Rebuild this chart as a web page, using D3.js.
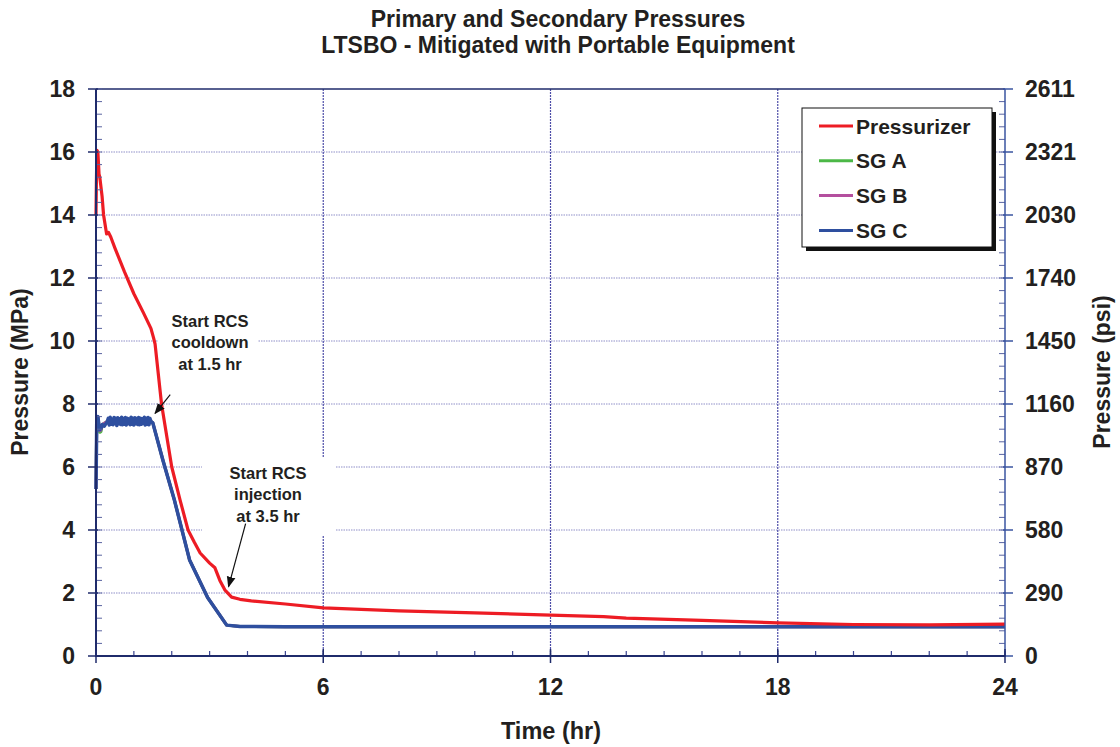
<!DOCTYPE html>
<html><head><meta charset="utf-8">
<script src="https://cdn.jsdelivr.net/npm/d3@7"></script>
<style>body{margin:0;background:#fff}svg{display:block}text{font-family:"Liberation Sans",Arial,sans-serif;font-weight:bold;fill:#231f20}</style>
</head><body><svg id="c" width="1120" height="747"></svg>
<script>
// ---- data ----
const titleLines = ["Primary and Secondary Pressures", "LTSBO - Mitigated with Portable Equipment"];
const xTicks = [0, 6, 12, 18, 24];
const yTicks = [0, 2, 4, 6, 8, 10, 12, 14, 16, 18];
const psiLabels = ["0", "290", "580", "870", "1160", "1450", "1740", "2030", "2321", "2611"];
const seriesNames = ["Pressurizer", "SG A", "SG B", "SG C"];
const seriesColors = ["#ed1c24", "#4cb847", "#b44f9e", "#2e4f9f"];

const pressurizer = [[0,14.0],[0.01,15.0],[0.025,16.05],[0.05,16.0],[0.08,15.3],[0.1,15.2],[0.13,14.9],[0.16,14.6],[0.2,14.0],[0.28,13.4],[0.33,13.45],[0.39,13.3],[0.5,12.95],[0.75,12.2],[1.0,11.5],[1.25,10.9],[1.45,10.4],[1.52,10.1],[1.56,9.9],[1.73,8.0],[2.0,6.0],[2.22,4.95],[2.43,4.0],[2.6,3.6],[2.75,3.27],[3.0,2.95],[3.14,2.8],[3.27,2.4],[3.4,2.1],[3.58,1.87],[3.8,1.8],[4.1,1.75],[5,1.65],[6,1.53],[8,1.43],[10,1.37],[12,1.3],[13.4,1.25],[14,1.2],[16,1.13],[18,1.05],[20,1.0],[22,0.99],[24,1.01]];

const sgA = [[0,5.3],[0.02,7.5],[0.05,7.6],[0.08,7.3],[0.1,7.1],[0.13,7.12],[0.17,7.35],[0.3,7.45],[1.45,7.45],[1.5,7.4],[1.77,6.2],[2.07,4.95],[2.47,3.05],[2.95,1.85],[3.45,0.98],[3.8,0.94],[5,0.93],[24,0.93]];
const sgB = [[0,5.3],[0.02,7.5],[0.05,7.6],[0.08,7.3],[0.1,7.15],[0.13,7.18],[0.17,7.35],[0.3,7.45],[1.45,7.45],[1.5,7.4],[1.77,6.2],[2.07,4.95],[2.47,3.05],[2.95,1.85],[3.45,0.98],[3.8,0.94],[5,0.93],[24,0.93]];
const sgC = [[0,5.3],[0.02,7.5],[0.05,7.6],[0.08,7.3],[0.1,7.18],[0.13,7.22],[0.17,7.35],[0.22,7.3],[0.3,7.45],
 [0.325,7.55],[0.35,7.33],[0.375,7.58],[0.4,7.36],[0.425,7.52],[0.45,7.34],[0.475,7.57],[0.5,7.38],[0.525,7.55],[0.55,7.32],
 [0.575,7.56],[0.6,7.37],[0.625,7.53],[0.65,7.35],[0.675,7.58],[0.7,7.34],[0.725,7.54],[0.75,7.36],[0.775,7.57],[0.8,7.33],
 [0.825,7.55],[0.85,7.38],[0.875,7.52],[0.9,7.34],[0.925,7.58],[0.95,7.36],[0.975,7.55],[1.0,7.33],[1.025,7.56],[1.05,7.37],
 [1.075,7.54],[1.1,7.35],[1.125,7.57],[1.15,7.34],[1.175,7.55],[1.2,7.36],[1.225,7.53],[1.25,7.38],[1.275,7.58],[1.3,7.33],
 [1.325,7.55],[1.35,7.36],[1.375,7.57],[1.4,7.34],[1.425,7.54],[1.45,7.45],
 [1.5,7.4],[1.77,6.2],[2.07,4.95],[2.47,3.05],[2.95,1.85],[3.45,0.98],[3.8,0.94],[5,0.93],[24,0.93]];

const annotations = [
  {lines:["Start RCS","cooldown","at 1.5 hr"], cx:210, cy:342, from:[1.96,8.3], to:[1.56,7.7], box:[158,308,100,62]},
  {lines:["Start RCS","injection","at 3.5 hr"], cx:268, cy:494, from:[3.95,4.2], to:[3.5,2.2], box:[202,457,133,78]}
];

// ---- layout ----
const svg = d3.select("#c");
const L = 96, R = 1005, T = 89, B = 656;
const x = d3.scaleLinear().domain([0, 24]).range([L, R]);
const y = d3.scaleLinear().domain([0, 18]).range([B, T]);
const navy = "#1f2b6b";

// grid
svg.append("g").selectAll("line").data(yTicks.slice(1, -1)).join("line")
  .attr("x1", L).attr("x2", R).attr("y1", d => y(d)).attr("y2", d => y(d))
  .attr("stroke", "#8f8fc8").attr("stroke-width", 1).attr("stroke-dasharray", "1.5,1");
svg.append("g").selectAll("line").data(xTicks.slice(1, -1)).join("line")
  .attr("y1", T).attr("y2", B).attr("x1", d => x(d)).attr("x2", d => x(d))
  .attr("stroke", "#4d4da8").attr("stroke-width", 1.2).attr("stroke-dasharray", "2,1");

// annotation boxes (white, covering grid)
annotations.forEach(a => {
  svg.append("rect").attr("x", a.box[0]).attr("y", a.box[1]).attr("width", a.box[2]).attr("height", a.box[3]).attr("fill", "#fff");
});

// lines
const line = d3.line().x(d => x(d[0])).y(d => y(d[1]));
const data = [pressurizer, sgA, sgB, sgC];
const widths = [3.2, 3, 3, 3.5];
[1, 2, 3, 0].forEach(i => {
  svg.append("path").datum(data[i]).attr("d", line).attr("fill", "none")
    .attr("stroke", seriesColors[i]).attr("stroke-width", widths[i]).attr("stroke-linejoin", "round");
});

// annotations text and arrows
svg.append("defs").append("marker").attr("id", "ah").attr("viewBox", "0 0 10 10").attr("refX", 9).attr("refY", 5)
  .attr("markerWidth", 11).attr("markerHeight", 11).attr("markerUnits", "userSpaceOnUse").attr("orient", "auto")
  .append("path").attr("d", "M0,1 L10,5 L0,9 Z").attr("fill", "#111");
annotations.forEach(a => {
  a.lines.forEach((s, i) => {
    svg.append("text").attr("x", a.cx).attr("y", a.cy + (i - 1) * 21.5).attr("text-anchor", "middle")
      .attr("dominant-baseline", "central").attr("font-size", 16.5).text(s);
  });
  svg.append("line").attr("x1", x(a.from[0])).attr("y1", y(a.from[1])).attr("x2", x(a.to[0])).attr("y2", y(a.to[1]))
    .attr("stroke", "#111").attr("stroke-width", 1.2).attr("marker-end", "url(#ah)");
});

// frame
svg.append("line").attr("x1", L).attr("x2", R).attr("y1", T).attr("y2", T).attr("stroke", navy).attr("stroke-width", 1.5);
// left axis
const minorY = d3.range(0, 18.01, 0.4);
svg.append("g").selectAll("line").data(minorY).join("line")
  .attr("x1", L).attr("x2", L + 6).attr("y1", d => y(d)).attr("y2", d => y(d)).attr("stroke", "#5a64a0").attr("stroke-width", 1);
svg.append("g").selectAll("line").data(yTicks).join("line")
  .attr("x1", L - 8).attr("x2", L + 2).attr("y1", d => y(d)).attr("y2", d => y(d)).attr("stroke", navy).attr("stroke-width", 1.5);
svg.append("line").attr("x1", L).attr("x2", L).attr("y1", T).attr("y2", B + 1).attr("stroke", navy).attr("stroke-width", 2);
svg.append("g").selectAll("text").data(yTicks).join("text")
  .attr("x", 75).attr("y", d => y(d)).attr("text-anchor", "end").attr("dominant-baseline", "central")
  .attr("font-size", 23).text(d => d);
// right axis
svg.append("g").selectAll("line").data(minorY).join("line")
  .attr("x1", R - 6).attr("x2", R).attr("y1", d => y(d)).attr("y2", d => y(d)).attr("stroke", "#5a64a0").attr("stroke-width", 1);
svg.append("g").selectAll("line").data(yTicks).join("line")
  .attr("x1", R - 2).attr("x2", R + 8).attr("y1", d => y(d)).attr("y2", d => y(d)).attr("stroke", "#3a55a0").attr("stroke-width", 1.5);
svg.append("line").attr("x1", R).attr("x2", R).attr("y1", T).attr("y2", B + 1).attr("stroke", "#3a55a0").attr("stroke-width", 1.5);
svg.append("g").selectAll("text").data(yTicks).join("text")
  .attr("x", 1025).attr("y", d => y(d)).attr("text-anchor", "start").attr("dominant-baseline", "central")
  .attr("font-size", 23).text((d, i) => psiLabels[i]);
// bottom axis
const minorX = d3.range(0, 24.01, 1);
svg.append("g").selectAll("line").data(minorX).join("line")
  .attr("x1", d => x(d)).attr("x2", d => x(d)).attr("y1", B).attr("y2", B - 5).attr("stroke", "#3a4490").attr("stroke-width", 1.2);
svg.append("g").selectAll("line").data(xTicks).join("line")
  .attr("x1", d => x(d)).attr("x2", d => x(d)).attr("y1", B - 7).attr("y2", B + 7).attr("stroke", navy).attr("stroke-width", 1.5);
svg.append("line").attr("x1", L).attr("x2", R).attr("y1", B).attr("y2", B).attr("stroke", navy).attr("stroke-width", 2);
svg.append("g").selectAll("text").data(xTicks).join("text")
  .attr("x", d => x(d)).attr("y", 687).attr("text-anchor", "middle").attr("dominant-baseline", "central")
  .attr("font-size", 23).text(d => d);

// axis titles
svg.append("text").attr("x", 551).attr("y", 731).attr("text-anchor", "middle").attr("dominant-baseline", "central")
  .attr("font-size", 23.5).text("Time (hr)");
svg.append("text").attr("transform", "translate(20,372) rotate(-90)").attr("text-anchor", "middle").attr("dominant-baseline", "central")
  .attr("font-size", 23).text("Pressure (MPa)");
svg.append("text").attr("transform", "translate(1102,372) rotate(-90)").attr("text-anchor", "middle").attr("dominant-baseline", "central")
  .attr("font-size", 23).text("Pressure (psi)");

// title
titleLines.forEach((s, i) => {
  svg.append("text").attr("x", 558).attr("y", 19 + i * 26).attr("text-anchor", "middle").attr("dominant-baseline", "central")
    .attr("font-size", 23).text(s);
});

// legend
const lg = svg.append("g");
lg.append("rect").attr("x", 806).attr("y", 112).attr("width", 190).attr("height", 139).attr("fill", "#111");
lg.append("rect").attr("x", 802).attr("y", 108).attr("width", 190).attr("height", 139).attr("fill", "#fff").attr("stroke", "#111").attr("stroke-width", 1);
seriesNames.forEach((n, i) => {
  const yy = 126 + i * 34.8;
  lg.append("line").attr("x1", 819).attr("x2", 853).attr("y1", yy).attr("y2", yy).attr("stroke", seriesColors[i]).attr("stroke-width", 3);
  lg.append("text").attr("x", 856).attr("y", yy).attr("dominant-baseline", "central").attr("font-size", 21).text(n);
});
</script></body></html>
